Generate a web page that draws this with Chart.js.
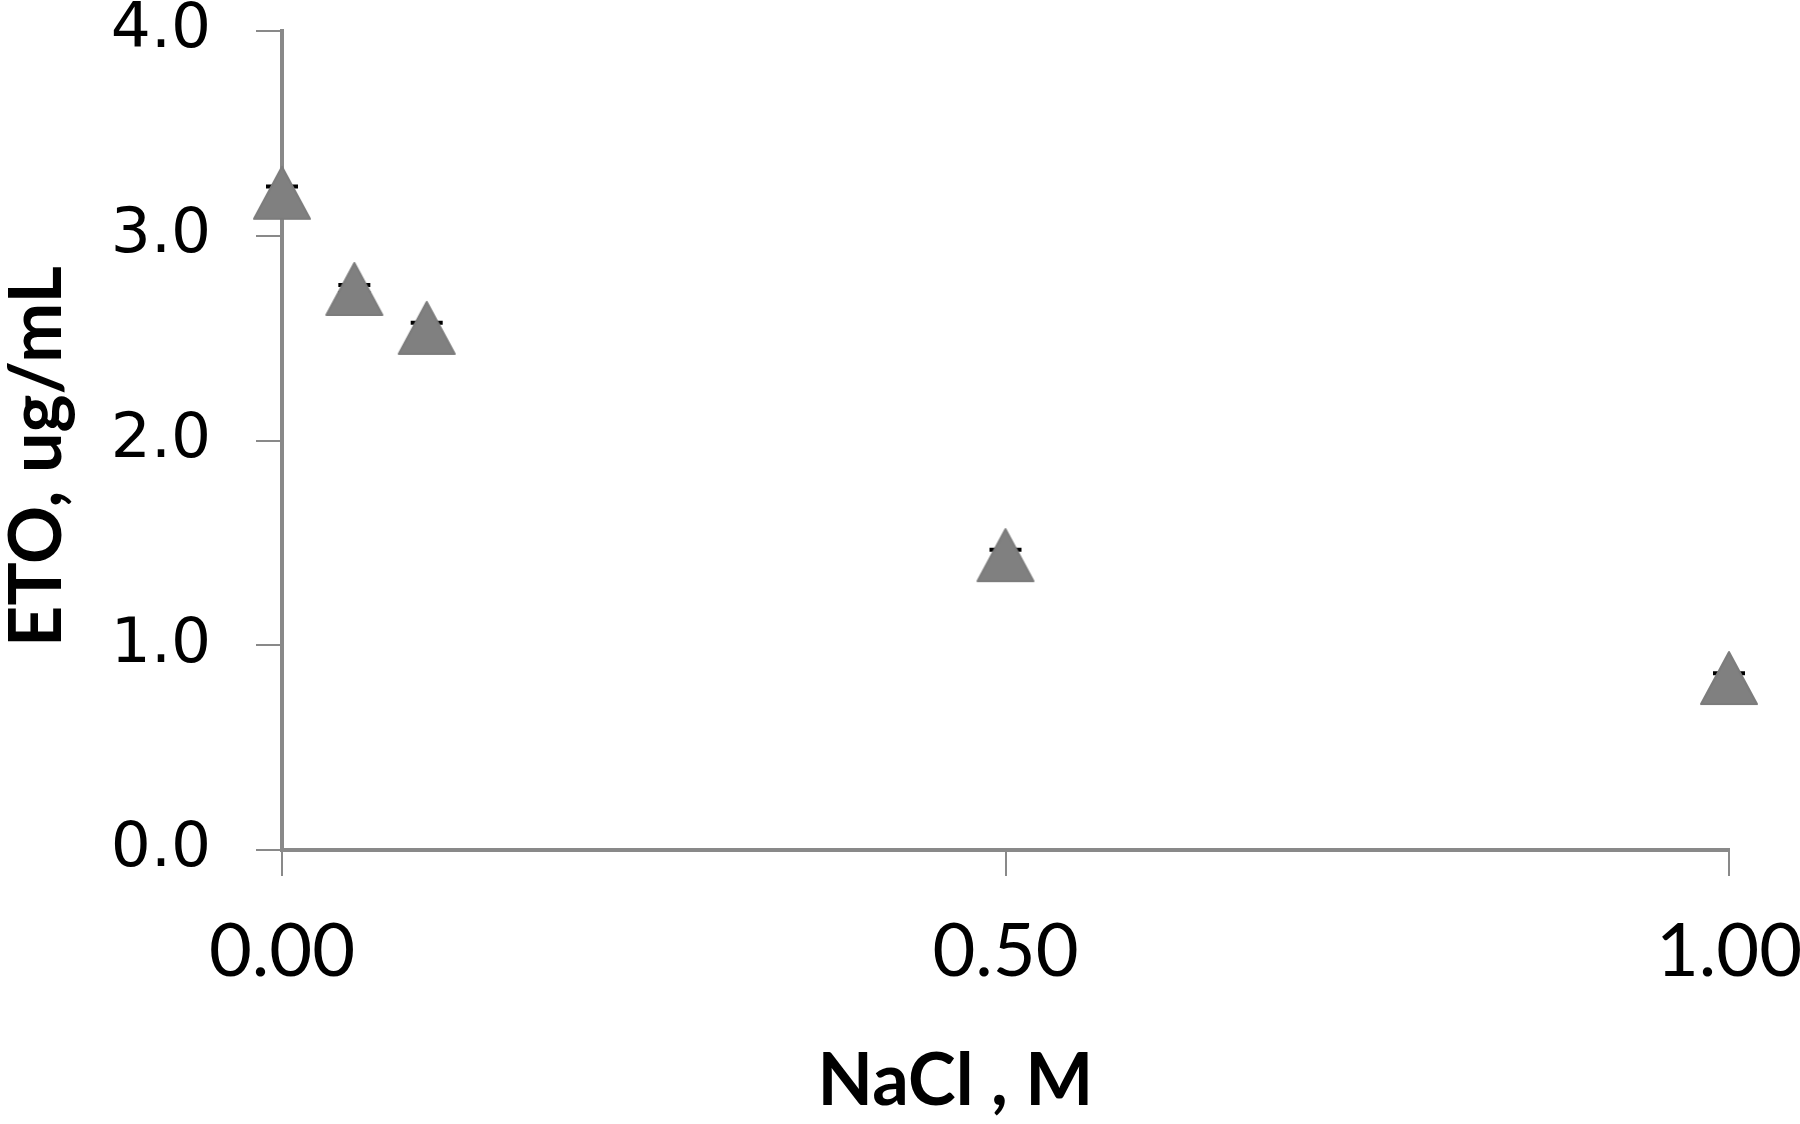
<!DOCTYPE html>
<html>
<head>
<meta charset="utf-8">
<script src="https://cdn.jsdelivr.net/npm/chart.js@4.4.1/dist/chart.umd.min.js"></script>
<style>
  html, body { margin: 0; padding: 0; background: #fff; }
  #wrap { width: 1800px; height: 1124px; }
</style>
</head>
<body>
<div id="wrap"><canvas id="grafico" width="1800" height="1124"></canvas></div>
<script>
// datos
const nacl = [0, 0.05, 0.1, 0.5, 1.0];
const eto = [3.21, 2.74, 2.55, 1.44, 0.84];
const errores = [0.03, 0.02, 0.025, 0.027, 0.023];
const ticksX = [0, 0.5, 1.0];
const ticksY = [0, 1, 2, 3, 4];
const tituloX = 'NaCl , M';
const tituloY = 'ETO, ug/mL';

const gris = '#898989';

// marcador triangular centrado en su caja (como Excel)
function triangulo() {
  const c = document.createElement('canvas');
  c.width = 64; c.height = 64;
  const g = c.getContext('2d');
  g.lineJoin = 'round';
  g.beginPath();
  g.moveTo(32, 6);
  g.lineTo(60, 58);
  g.lineTo(4, 58);
  g.closePath();
  g.fillStyle = '#808080';
  g.fill();
  g.strokeStyle = '#7c7c7c';
  g.lineWidth = 2;
  g.stroke();
  return c;
}

// barras de error dibujadas antes de los marcadores
const barrasError = {
  id: 'barrasError',
  beforeDatasetsDraw(chart) {
    const { ctx, scales: { x, y } } = chart;
    ctx.save();
    ctx.strokeStyle = '#000';
    nacl.forEach((v, i) => {
      const px = x.getPixelForValue(v);
      const top = y.getPixelForValue(eto[i] + errores[i]);
      const bot = y.getPixelForValue(eto[i] - errores[i]);
      ctx.lineWidth = 2;
      ctx.beginPath();
      ctx.moveTo(px, top); ctx.lineTo(px, bot);
      ctx.stroke();
      ctx.lineWidth = 4;
      ctx.beginPath();
      ctx.moveTo(px - 16, top); ctx.lineTo(px + 16, top);
      ctx.moveTo(px - 16, bot); ctx.lineTo(px + 16, bot);
      ctx.stroke();
    });
    ctx.restore();
  }
};

// títulos de ejes (Excel no los centra exactamente en el área)
const titulos = {
  id: 'titulos',
  afterDraw(chart) {
    const { ctx, chartArea: a } = chart;
    ctx.save();
    ctx.fillStyle = '#000';
    ctx.font = 'bold 72px Lato';
    ctx.textAlign = 'center';
    ctx.textBaseline = 'middle';
    ctx.fillText(tituloX, (a.left + a.right) / 2 - 50, 1082);
    ctx.translate(38, (a.top + a.bottom) / 2 + 16);
    ctx.rotate(-Math.PI / 2);
    ctx.fillText(tituloY, 0, 0);
    ctx.restore();
  }
};

const ctx = document.getElementById('grafico').getContext('2d');
new Chart(ctx, {
  type: 'scatter',
  data: {
    datasets: [{
      label: 'ETO',
      data: nacl.map((v, i) => ({ x: v, y: eto[i] })),
      pointStyle: triangulo(),
      pointRadius: 30,
      clip: false,
      showLine: false
    }]
  },
  options: {
    responsive: false,
    animation: false,
    layout: { padding: { top: 29, right: 71, left: 0, bottom: 0 } },
    plugins: { legend: { display: false }, tooltip: { enabled: false } },
    scales: {
      x: {
        type: 'linear',
        min: 0, max: 1,
        afterFit: s => { s.height = 274; s.paddingLeft = 0; s.paddingRight = 0; },
        afterBuildTicks: s => { s.ticks = ticksX.map(v => ({ value: v })); },
        ticks: {
          callback: v => v.toFixed(2),
          color: '#000',
          padding: 32,
          font: { family: 'Lato', size: 74 }
        },
        grid: { drawOnChartArea: false, drawTicks: true, tickLength: 26, color: gris, lineWidth: 2 },
        border: { display: true, color: gris, width: 4 }
      },
      y: {
        type: 'linear',
        min: 0, max: 4,
        afterFit: s => { s.width = 282; s.paddingTop = 0; s.paddingBottom = 0; },
        afterBuildTicks: s => { s.ticks = ticksY.map(v => ({ value: v })); },
        ticks: {
          callback: v => v.toFixed(1),
          color: '#000',
          padding: 45,
          font: { family: 'DejaVu Sans', size: 63 }
        },
        grid: { drawOnChartArea: false, drawTicks: true, tickLength: 26, color: gris, lineWidth: 2 },
        border: { display: true, color: gris, width: 4 }
      }
    }
  },
  plugins: [barrasError, titulos]
});
</script>
</body>
</html>
